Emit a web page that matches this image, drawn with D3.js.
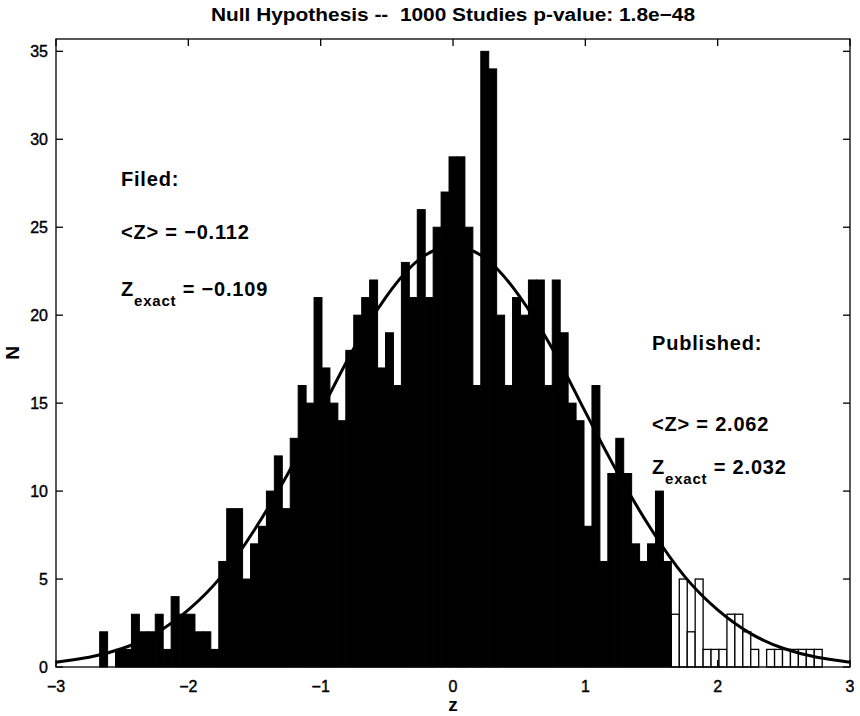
<!DOCTYPE html>
<html>
<head>
<meta charset="utf-8">
<script src="https://cdn.jsdelivr.net/npm/d3@7/dist/d3.min.js"></script>
<style>
  html, body { margin: 0; padding: 0; background: #fff; }
  svg text { font-family: "Liberation Sans", Arial, Helvetica, sans-serif; fill: #000; white-space: pre; }
</style>
</head>
<body>
<div id="container"></div>
<script>
// bin centres (z) and counts
const filedCenters = [-2.64, -2.58, -2.52, -2.46, -2.40, -2.34, -2.28, -2.22, -2.16, -2.10,
  -2.04, -1.98, -1.92, -1.86, -1.80, -1.74, -1.68, -1.62, -1.56, -1.50,
  -1.44, -1.38, -1.32, -1.26, -1.20, -1.14, -1.08, -1.02, -0.96, -0.90,
  -0.84, -0.78, -0.72, -0.66, -0.60, -0.54, -0.48, -0.42, -0.36, -0.30,
  -0.24, -0.18, -0.12, -0.06, 0.00, 0.06, 0.12, 0.18, 0.24, 0.30,
  0.36, 0.42, 0.48, 0.54, 0.60, 0.66, 0.72, 0.78, 0.84, 0.90,
  0.96, 1.02, 1.08, 1.14, 1.20, 1.26, 1.32, 1.38, 1.44, 1.50,
  1.56, 1.62];
const filedCounts = [2, 0, 1, 1, 3, 2, 2, 3, 1, 4,
  3, 3, 2, 2, 1, 6, 9, 9, 5, 7,
  8, 10, 12, 9, 13, 16, 15, 21, 17, 15,
  14, 18, 20, 21, 22, 17, 19, 16, 23, 21,
  26, 21, 25, 27, 29, 29, 25, 16, 35, 34,
  20, 16, 21, 20, 22, 22, 16, 22, 19, 15,
  14, 8, 16, 6, 11, 13, 11, 7, 6, 7,
  10, 6];

const publishedCenters = [1.68, 1.74, 1.80, 1.86, 1.92, 1.98, 2.04, 2.10, 2.16, 2.22,
  2.28, 2.34, 2.40, 2.46, 2.52, 2.58, 2.64, 2.70, 2.76];
const publishedCounts = [3, 5, 2, 5, 1, 1, 1, 3, 3, 2,
  1, 0, 1, 1, 1, 1, 1, 1, 1];

const binWidth = 0.06;

// fitted curve
const curveZ = [-3, -2.75, -2.5, -2.25, -2, -1.75, -1.5, -1.25, -1, -0.75, -0.5, -0.25, 0,
  0.25, 0.5, 0.75, 1, 1.25, 1.5, 1.75, 2, 2.25, 2.5, 2.75, 3];
const curveN = [0.27, 0.55, 1.05, 1.9, 3.25, 5.15, 7.8, 10.96, 14.5, 18.1, 21.1, 23.2, 23.9,
  23.2, 21.1, 18.1, 14.5, 10.96, 7.8, 5.15, 3.25, 1.9, 1.05, 0.55, 0.27];

const xTicks = [-3, -2, -1, 0, 1, 2, 3];
const yTicks = [0, 5, 10, 15, 20, 25, 30, 35];

const titleText = 'Null Hypothesis --  1000 Studies p-value: 1.8e\u221248';

const width = 860, height = 716;
const margin = {top: 39, right: 10, bottom: 49, left: 56};

const svg = d3.select('#container')
  .append('svg')
  .attr('width', width)
  .attr('height', height);

const xScale = d3.scaleLinear().domain([-3, 3]).range([margin.left, width - margin.right]);
const yScale = d3.scaleLinear().domain([0, 35.7]).range([height - margin.bottom, margin.top]);

const filed = filedCenters.map((c, i) => ({c, n: filedCounts[i]}));
const published = publishedCenters.map((c, i) => ({c, n: publishedCounts[i]}));

// 1. bars
svg.append('g')
  .selectAll('rect')
  .data(filed.filter(d => d.n > 0))
  .enter()
  .append('rect')
  .attr('x', d => xScale(d.c - binWidth / 2))
  .attr('width', d => xScale(d.c + binWidth / 2) - xScale(d.c - binWidth / 2))
  .attr('y', d => yScale(d.n))
  .attr('height', d => yScale(0) - yScale(d.n))
  .attr('fill', '#000')
  .attr('stroke', '#000')
  .attr('stroke-width', 1);

svg.append('g')
  .selectAll('rect')
  .data(published.filter(d => d.n > 0))
  .enter()
  .append('rect')
  .attr('x', d => xScale(d.c - binWidth / 2))
  .attr('width', d => xScale(d.c + binWidth / 2) - xScale(d.c - binWidth / 2))
  .attr('y', d => yScale(d.n))
  .attr('height', d => yScale(0) - yScale(d.n))
  .attr('fill', '#fff')
  .attr('stroke', '#000')
  .attr('stroke-width', 1.3);

// 2. curve
const line = d3.line()
  .x((d, i) => xScale(d))
  .y((d, i) => yScale(curveN[i]))
  .curve(d3.curveNatural);

svg.append('path')
  .attr('d', line(curveZ))
  .attr('fill', 'none')
  .attr('stroke', '#000')
  .attr('stroke-width', 3);

// 3. axes box, inward ticks on all sides
const tickLen = 7;
const x0 = xScale(-3), x1 = xScale(3), y0 = yScale(0), y1 = yScale.range()[1];

svg.append('rect')
  .attr('x', x0).attr('y', y1)
  .attr('width', x1 - x0).attr('height', y0 - y1)
  .attr('fill', 'none').attr('stroke', '#000').attr('stroke-width', 1.3);

const ticks = svg.append('g').attr('stroke', '#000').attr('stroke-width', 1.3);
xTicks.forEach(t => {
  ticks.append('line').attr('x1', xScale(t)).attr('x2', xScale(t)).attr('y1', y0).attr('y2', y0 - tickLen);
  ticks.append('line').attr('x1', xScale(t)).attr('x2', xScale(t)).attr('y1', y1).attr('y2', y1 + tickLen);
});
yTicks.forEach(t => {
  ticks.append('line').attr('x1', x0).attr('x2', x0 + tickLen).attr('y1', yScale(t)).attr('y2', yScale(t));
  ticks.append('line').attr('x1', x1).attr('x2', x1 - tickLen).attr('y1', yScale(t)).attr('y2', yScale(t));
});

// tick labels (scanned Helvetica looks heavy, so a thin stroke)
svg.append('g')
  .selectAll('text')
  .data(xTicks)
  .enter()
  .append('text')
  .attr('x', d => xScale(d))
  .attr('y', y0 + 25)
  .attr('text-anchor', 'middle')
  .attr('font-size', 16)
  .attr('stroke', '#000')
  .attr('stroke-width', 0.4)
  .text(d => d < 0 ? '\u2212' + Math.abs(d) : d);

svg.append('g')
  .selectAll('text')
  .data(yTicks)
  .enter()
  .append('text')
  .attr('x', x0 - 8)
  .attr('y', d => yScale(d))
  .attr('dy', '0.35em')
  .attr('text-anchor', 'end')
  .attr('font-size', 16)
  .attr('stroke', '#000')
  .attr('stroke-width', 0.4)
  .text(d => d);

// 4. titles
svg.append('text')
  .attr('x', (x0 + x1) / 2)
  .attr('y', 21)
  .attr('text-anchor', 'middle')
  .attr('font-size', 18)
  .attr('font-weight', 'bold')
  .attr('textLength', 484)
  .attr('lengthAdjust', 'spacingAndGlyphs')
  .text(titleText);

svg.append('text')
  .attr('x', (x0 + x1) / 2)
  .attr('y', 711)
  .attr('text-anchor', 'middle')
  .attr('font-size', 19)
  .attr('font-weight', 'bold')
  .text('z');

svg.append('text')
  .attr('transform', `translate(19, ${(y0 + y1) / 2}) rotate(-90)`)
  .attr('text-anchor', 'middle')
  .attr('font-size', 19)
  .attr('font-weight', 'bold')
  .text('N');

// 5. annotations
function note(x, y, label) {
  svg.append('text')
    .attr('x', x).attr('y', y)
    .attr('font-size', 20)
    .attr('font-weight', 'bold')
    .attr('letter-spacing', 0.8)
    .text(label);
}
function exactNote(x, y, value) {
  const t = svg.append('text')
    .attr('x', x).attr('y', y)
    .attr('font-size', 20)
    .attr('font-weight', 'bold')
    .attr('letter-spacing', 0.8);
  t.append('tspan').text('Z');
  t.append('tspan').attr('font-size', 15).attr('dy', 10).text('exact');
  t.append('tspan').attr('dy', -10).text(' = ' + value);
}

note(121, 186, 'Filed:');
note(121, 239, '<Z> = \u22120.112');
exactNote(121, 296, '\u22120.109');

note(652, 350, 'Published:');
note(652, 431, '<Z> = 2.062');
exactNote(652, 474, '2.032');
</script>
</body>
</html>
